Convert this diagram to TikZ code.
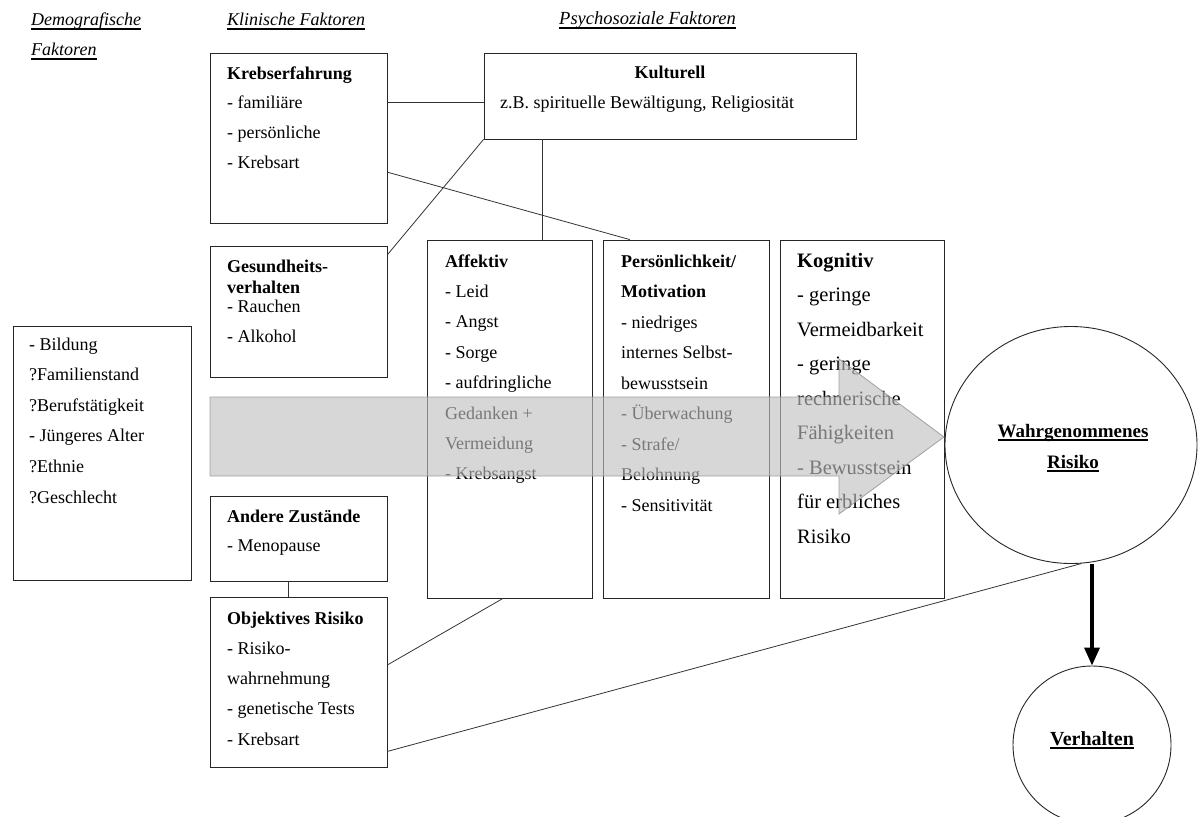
\documentclass[tikz,border=0pt]{standalone}
\usepackage{fontspec}
\setmainfont{Liberation Serif}
\usetikzlibrary{calc,shapes.geometric,arrows.meta}
\newsavebox\myulbox
\newcommand{\myul}[1]{\sbox\myulbox{#1}\rlap{\rule[-3.6pt]{\wd\myulbox}{1.3pt}}\usebox\myulbox}
\tikzset{
  box/.style={draw=black!85, line width=0.9pt, inner sep=0pt, rectangle},
  conn/.style={draw=black!80, line width=0.8pt},
  % multi-line nodes: the base anchor is the baseline of the LAST line
  txt/.style={anchor=base west, inner sep=0pt, align=left, font=\fontsize{18}{30.4}\selectfont},
  ctxt/.style={anchor=base, inner sep=0pt},
}
\begin{document}
\begin{tikzpicture}[x=1pt,y=-1pt]
\useasboundingbox (0,0) rectangle (1198,816);
\clip (0,0) rectangle (1198,816);
% boxes
\node[box, minimum width=177pt, minimum height=170pt] (kreb) at (298.5,138) {};
\node[box, minimum width=372pt, minimum height=86pt] (kult) at (670,96) {};
\node[box, minimum width=177pt, minimum height=131pt] (gesund) at (298.5,311.5) {};
\node[box, minimum width=165pt, minimum height=358pt] (aff) at (509.5,419) {};
\node[box, minimum width=166pt, minimum height=358pt] (pers) at (686,419) {};
\node[box, minimum width=164pt, minimum height=358pt] (kog) at (862,419) {};
\node[box, minimum width=177pt, minimum height=85pt] (andere) at (298.5,538.5) {};
\node[box, minimum width=177pt, minimum height=170pt] (obj) at (298.5,682) {};
\node[box, minimum width=178pt, minimum height=254pt] (demo) at (102,453) {};
\node[ellipse, draw=black!85, line width=0.9pt, inner sep=0pt, minimum width=252pt, minimum height=237pt] (wahr) at (1071,445) {};
\node[circle, draw=black!85, line width=0.9pt, inner sep=0pt, minimum size=158pt] (verh) at (1092,745) {};
% connectors
\coordinate (c1) at ($(kreb.north east)!0.294!(kreb.south east)$);
\draw[conn] (c1) -- (c1 -| kult.west);
\draw[conn] (kult.south west) -- ($(gesund.north east)!0.069!(gesund.south east)$);
\draw[conn] ($(kreb.north east)!0.7!(kreb.south east)$) -- ($(pers.north west)!0.163!(pers.north east)$);
\coordinate (c4) at ($(kult.south west)!0.159!(kult.south east)$);
\draw[conn] (c4) -- (c4 |- aff.north);
\coordinate (c5) at ($(andere.south west)!0.446!(andere.south east)$);
\draw[conn] (c5) -- (c5 |- obj.north);
\draw[conn] ($(aff.south west)!0.46!(aff.south east)$) -- ($(obj.north east)!0.4!(obj.south east)$);
\draw[conn] (wahr.-85) -- ($(obj.north east)!0.906!(obj.south east)$);
\draw[line width=3.5pt, -{Triangle[length=18pt,width=15pt]}] (verh.north |- wahr.south) -- (verh.north);
% headers
\node[txt, font=\fontsize{18}{30}\selectfont\itshape] (hDemo) at (31,56) {\myul{Demografische}\\\myul{Faktoren}};
\node[txt, font=\fontsize{18}{30}\selectfont\itshape] (hKlin) at (227,26) {\myul{Klinische Faktoren}};
\node[txt, font=\fontsize{18.5}{30}\selectfont\itshape] (hPsy) at (559,25) {\myul{Psychosoziale Faktoren}};
% box texts (positions = baseline of last line)
\node[txt, font=\fontsize{18}{29.8}\selectfont] (krebT) at (227,168.4) {\textbf{Krebserfahrung}\\- familiäre\\- persönliche\\- Krebsart};
\node[ctxt, font=\fontsize{18}{30}\selectfont\bfseries] (kultT1) at (670,78) {Kulturell};
\node[txt] (kultT2) at (500,108) {z.B. spirituelle Bewältigung, Religiosität};
\node[txt, font=\fontsize{18}{21}\selectfont] (gesT) at (227,342) {\textbf{Gesundheits-}\\\textbf{verhalten}\\[-2pt]- Rauchen\\[9pt]- Alkohol};
\node[txt] (affT) at (445,479.8) {\textbf{Affektiv}\\- Leid\\- Angst\\- Sorge\\- aufdringliche\\Gedanken +\\Vermeidung\\- Krebsangst};
\node[txt, font=\fontsize{18}{30.5}\selectfont] (persT) at (621,511) {\textbf{Persönlichkeit/}\\\textbf{Motivation}\\- niedriges\\internes Selbst-\\bewusstsein\\- Überwachung\\- Strafe/\\Belohnung\\- Sensitivität};
\node[txt, font=\fontsize{20.5}{34.5}\selectfont] (kogT) at (797,543) {\textbf{Kognitiv}\\- geringe\\Vermeidbarkeit\\- geringe\\rechnerische\\Fähigkeiten\\- Bewusstsein\\für erbliches\\Risiko};
\node[txt, font=\fontsize{18}{29}\selectfont] (andT) at (227,551) {\textbf{Andere Zustände}\\- Menopause};
\node[txt, font=\fontsize{18}{30.3}\selectfont] (objT) at (227,745.2) {\textbf{Objektives Risiko}\\- Risiko-\\wahrnehmung\\- genetische Tests\\- Krebsart};
\node[txt, font=\fontsize{18}{30.6}\selectfont] (demoT) at (29,503) {- Bildung\\?Familienstand\\?Berufstätigkeit\\- Jüngeres Alter\\?Ethnie\\?Geschlecht};
\node[ctxt, font=\fontsize{19}{31}\selectfont\bfseries] (wahrT1) at (1073,437) {\myul{Wahrgenommenes}};
\node[ctxt, font=\fontsize{19}{31}\selectfont\bfseries] (wahrT2) at (1073,468) {\myul{Risiko}};
\node[ctxt, font=\fontsize{20}{31}\selectfont\bfseries] (verhT) at (1092,745) {\myul{Verhalten}};
% big translucent arrow
\path[fill=black!25, fill opacity=0.63, draw=black!40, draw opacity=0.9, line width=0.8pt]
  (210,397) -- (839,397) -- (839,359) -- (944,437) -- (839,514) -- (839,476) -- (210,476) -- cycle;
\end{tikzpicture}
\end{document}
